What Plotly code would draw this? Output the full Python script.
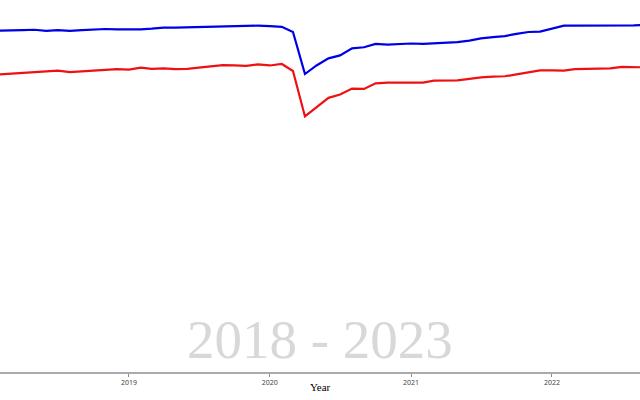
import plotly.graph_objects as go
import pandas as pd

# monthly values, Jan 2018 .. Sep 2022
months = pd.date_range("2018-01-01", periods=57, freq="MS")

blue_series = [
    91.7, 91.7, 91.7, 91.9, 92.0, 91.7, 91.9, 91.7, 91.9, 92.1, 92.2, 92.1,
    92.0, 92.1, 92.3, 92.6, 92.6, 92.7, 92.8, 92.8, 92.9, 93.0, 93.2, 93.1,
    93.0, 92.8, 91.4, 80.1, 82.4, 84.3, 85.1, 87.0, 87.3, 88.2, 88.0, 88.2,
    88.3, 88.2, 88.3, 88.4, 88.7, 89.1, 89.7, 90.0, 90.3, 90.9, 91.4, 91.5,
    92.3, 93.1, 93.1, 93.1, 93.1, 93.0, 93.1, 93.2, 93.3,
]

red_series = [
    79.8, 80.0, 80.2, 80.3, 80.5, 80.8, 81.0, 80.6, 80.9, 81.0, 81.2, 81.4,
    81.3, 81.8, 81.5, 81.6, 81.4, 81.5, 81.8, 82.1, 82.5, 82.4, 82.3, 82.7,
    82.4, 82.8, 80.9, 68.7, 71.1, 73.7, 74.6, 76.2, 76.1, 77.6, 77.8, 77.8,
    77.6, 77.8, 78.3, 78.3, 78.4, 78.8, 79.2, 79.4, 79.5, 80.0, 80.5, 81.1,
    81.1, 81.0, 81.4, 81.5, 81.6, 81.6, 82.0, 81.9, 81.9,
]

period_label = "2018 - 2023"
x_title = "Year"

fig = go.Figure()
fig.add_trace(go.Scatter(x=months, y=blue_series, mode="lines",
                         line=dict(color="#0000e6", width=2.2), showlegend=False))
fig.add_trace(go.Scatter(x=months, y=red_series, mode="lines",
                         line=dict(color="#ee1111", width=2.2), showlegend=False))

# big faded period label behind the lines
fig.add_annotation(text=period_label, xref="paper", yref="paper",
                   x=0.5, y=0.087, xanchor="center", yanchor="middle",
                   showarrow=False,
                   font=dict(family="Liberation Serif", size=55, color="#d8d8d8"))

# axis title placed by hand, sits close under the tick labels
fig.add_annotation(text=x_title, xref="paper", yref="paper",
                   x=0.5, y=-0.04, xanchor="center", yanchor="middle",
                   showarrow=False,
                   font=dict(family="Liberation Serif", size=11, color="black"))

fig.update_layout(
    width=640, height=400,
    margin=dict(l=0, r=0, t=0, b=28),
    paper_bgcolor="white",
    plot_bgcolor="white",
    xaxis=dict(
        range=["2018-02-01", "2022-08-17"],
        showgrid=False, zeroline=False,
        showline=True, linecolor="#aaaaaa", linewidth=1.5,
        ticks="outside", ticklen=3, tickcolor="#888888",
        dtick="M12", tick0="2019-01-01", tickformat="%Y",
        tickfont=dict(family="Noto Sans", size=7, color="#444444"),
    ),
    yaxis=dict(range=[0, 100], visible=False),
)

# drop the page's default body margin so the chart fills the window
fig.write_html("out.html", config={"displayModeBar": False},
               post_script="document.body.style.margin='0';")
